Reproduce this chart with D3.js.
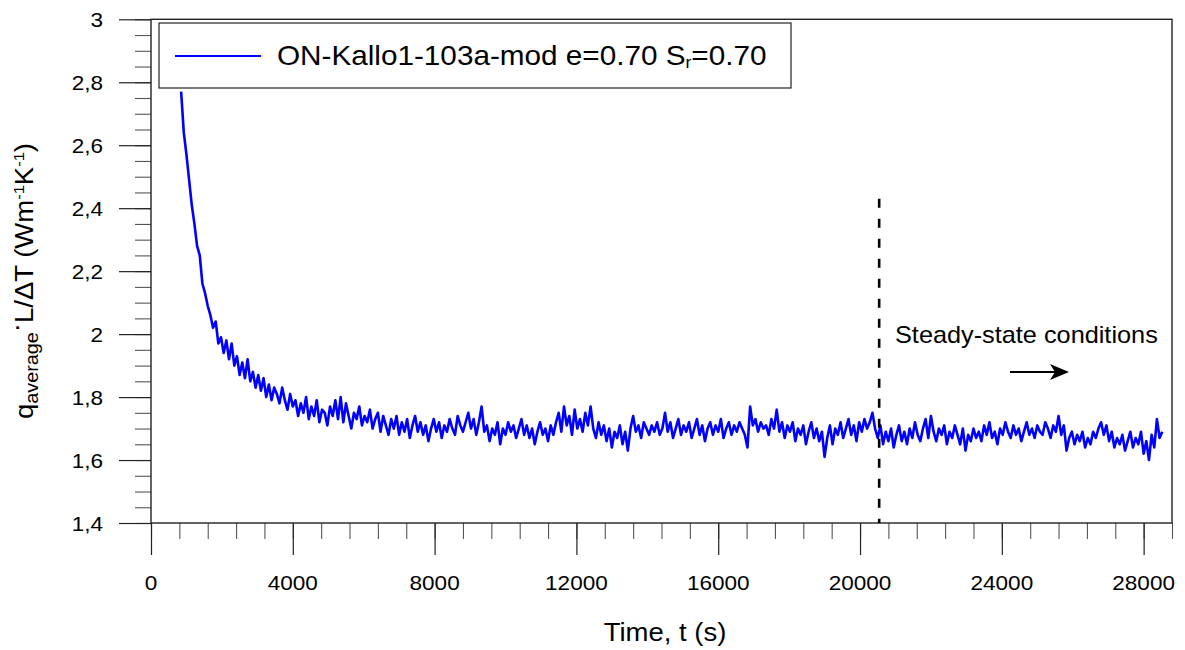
<!DOCTYPE html>
<html>
<head>
<meta charset="utf-8">
<script src="https://cdn.jsdelivr.net/npm/d3@7"></script>
<style>
  html, body { margin: 0; padding: 0; background: #fff; }
  text { font-family: "Liberation Sans", Arial, sans-serif; fill: #000; }
</style>
</head>
<body>
<script>
// ---------------- DATA ----------------
const seriesName = "ON-Kallo1-103a-mod e=0.70 S";
const tStart = 850;      // s, first sample
const tStep = 75;        // s, sampling step
const qValues = [
  2.77, 2.64, 2.57, 2.49, 2.41, 2.35, 2.28, 2.25, 2.16, 2.13,
  2.09, 2.06, 2.02, 2.04, 1.97, 1.99, 1.94, 1.98, 1.92, 1.97,
  1.90, 1.93, 1.87, 1.91, 1.86, 1.92, 1.85, 1.88, 1.83, 1.87,
  1.82, 1.86, 1.80, 1.84, 1.79, 1.83, 1.81, 1.78, 1.83, 1.79,
  1.76, 1.81, 1.77, 1.79, 1.74, 1.78, 1.75, 1.80, 1.73, 1.77,
  1.74, 1.79, 1.72, 1.76, 1.75, 1.71, 1.77, 1.74, 1.79, 1.73,
  1.80, 1.72, 1.78, 1.74, 1.70, 1.75, 1.73, 1.77, 1.71, 1.74,
  1.72, 1.76, 1.70, 1.73, 1.75, 1.69, 1.74, 1.71, 1.68, 1.73,
  1.70, 1.74, 1.68, 1.72, 1.69, 1.73, 1.67, 1.71, 1.74, 1.69,
  1.72, 1.68, 1.71, 1.66, 1.70, 1.73, 1.69, 1.72, 1.67, 1.71,
  1.69, 1.73, 1.70, 1.68, 1.74, 1.71, 1.69, 1.72, 1.75, 1.70,
  1.73, 1.68, 1.72, 1.77, 1.69, 1.71, 1.66, 1.70, 1.68, 1.72,
  1.65, 1.70, 1.68, 1.72, 1.69, 1.71, 1.67, 1.70, 1.73, 1.68,
  1.71, 1.67, 1.70, 1.65, 1.69, 1.72, 1.68, 1.70, 1.66, 1.71,
  1.68, 1.72, 1.75, 1.69, 1.77, 1.71, 1.74, 1.68, 1.76, 1.70,
  1.73, 1.69, 1.75, 1.71, 1.77, 1.70, 1.67, 1.72, 1.68, 1.71,
  1.66, 1.70, 1.64, 1.69, 1.67, 1.71, 1.65, 1.69, 1.63, 1.70,
  1.74, 1.69, 1.71, 1.67, 1.72, 1.70, 1.68, 1.71, 1.69, 1.72,
  1.68, 1.70, 1.75, 1.69, 1.72, 1.67, 1.70, 1.73, 1.68, 1.71,
  1.69, 1.72, 1.67, 1.70, 1.73, 1.68, 1.71, 1.66, 1.70, 1.72,
  1.68, 1.71, 1.69, 1.73, 1.67, 1.70, 1.72, 1.68, 1.71, 1.69,
  1.72, 1.70, 1.68, 1.64, 1.77, 1.71, 1.73, 1.69, 1.72, 1.70,
  1.71, 1.68, 1.73, 1.70, 1.76, 1.69, 1.72, 1.67, 1.71, 1.69,
  1.72, 1.66, 1.70, 1.68, 1.71, 1.65, 1.69, 1.72, 1.67, 1.70,
  1.66, 1.69, 1.61, 1.67, 1.71, 1.65, 1.70, 1.68, 1.72, 1.67,
  1.70, 1.73, 1.68, 1.71, 1.66, 1.72, 1.69, 1.73, 1.70, 1.72,
  1.75, 1.70, 1.67, 1.71, 1.65, 1.69, 1.66, 1.70, 1.64, 1.68,
  1.71, 1.66, 1.69, 1.65, 1.70, 1.67, 1.72, 1.68, 1.66, 1.70,
  1.73, 1.67, 1.74, 1.69, 1.66, 1.70, 1.68, 1.71, 1.65, 1.69,
  1.67, 1.71, 1.68, 1.65, 1.70, 1.63, 1.68, 1.66, 1.70, 1.67,
  1.69, 1.66, 1.71, 1.68, 1.72, 1.67, 1.69, 1.65, 1.70, 1.68,
  1.72, 1.69, 1.67, 1.71, 1.68, 1.70, 1.66, 1.69, 1.72, 1.68,
  1.70, 1.67, 1.71, 1.69, 1.68, 1.72, 1.70, 1.67, 1.71, 1.69,
  1.74, 1.68, 1.71, 1.63, 1.67, 1.69, 1.65, 1.68, 1.66, 1.69,
  1.64, 1.67, 1.65, 1.69, 1.67, 1.70, 1.72, 1.68, 1.71, 1.66,
  1.69, 1.64, 1.67, 1.65, 1.68, 1.63, 1.66, 1.69, 1.64, 1.67,
  1.65, 1.69, 1.62, 1.66, 1.60, 1.68, 1.64, 1.73, 1.67, 1.69
];
const xMajorTicks = [0, 4000, 8000, 12000, 16000, 20000, 24000, 28000];
const xMinorStep = 800;
const yMajorTicks = [1.4, 1.6, 1.8, 2.0, 2.2, 2.4, 2.6, 2.8, 3.0];
const yMinorStep = 0.05;
const steadyStart = 20540;     // s, dashed marker
const steadyTop = 2.43;        // top of dashed marker

// ---------------- LAYOUT ----------------
const W = 1185, H = 650;
const L = 151, R = 1172, T = 19.3, B = 523;
const SX = 1.1; // horizontal stretch of the original glyphs

const svg = d3.select("body").append("svg").attr("width", W).attr("height", H);

const x = d3.scaleLinear().domain([0, 28800]).range([L, R]);
const y = d3.scaleLinear().domain([1.4, 3.0]).range([B, T]);

const xMinor = d3.range(0, 28800 + 1, xMinorStep);
const yMinor = d3.range(0, 33).map(i => 1.4 + i * yMinorStep);

// minor ticks
const gxm = svg.append("g").attr("transform", `translate(0,${B})`)
  .call(d3.axisBottom(x).tickValues(xMinor).tickSize(16).tickFormat(""));
const gym = svg.append("g").attr("transform", `translate(${L},0)`)
  .call(d3.axisLeft(y).tickValues(yMinor).tickSize(16).tickFormat(""));
// major ticks
const gxM = svg.append("g").attr("transform", `translate(0,${B})`)
  .call(d3.axisBottom(x).tickValues(xMajorTicks).tickSize(32).tickFormat(""));
const gyM = svg.append("g").attr("transform", `translate(${L},0)`)
  .call(d3.axisLeft(y).tickValues(yMajorTicks).tickSize(32).tickFormat(""));
[gxm, gym].forEach(g => {
  g.select(".domain").remove();
  g.selectAll(".tick line").attr("stroke", "#555").attr("stroke-width", 1.1);
});
[gxM, gyM].forEach(g => {
  g.select(".domain").remove();
  g.selectAll(".tick line").attr("stroke", "#222").attr("stroke-width", 1.2);
});

// frame
svg.append("rect").attr("x", L).attr("y", T).attr("width", R - L).attr("height", B - T)
  .attr("fill", "none").attr("stroke", "#222").attr("stroke-width", 1.4);

// tick labels
svg.append("g").selectAll("text").data(xMajorTicks).join("text")
  .attr("transform", d => `translate(${x(d)},590) scale(${SX},1)`)
  .attr("text-anchor", "middle").attr("font-size", 20.5)
  .text(d => String(d));
svg.append("g").selectAll("text").data(yMajorTicks).join("text")
  .attr("transform", d => `translate(103,${y(d) + 7.5}) scale(${SX},1)`)
  .attr("text-anchor", "end").attr("font-size", 20.5)
  .text(d => d3.format(".1~f")(d).replace(".", ","));

// axis titles
svg.append("text").attr("transform", `translate(665,641) scale(${SX},1)`)
  .attr("text-anchor", "middle").attr("font-size", 25)
  .text("Time, t (s)");

const yl = svg.append("text")
  .attr("transform", `translate(33,281) rotate(-90) scale(${SX},1)`)
  .attr("text-anchor", "middle").attr("font-size", 25);
yl.append("tspan").text("q");
yl.append("tspan").attr("font-size", 18).attr("dy", 5).text("average");
yl.append("tspan").attr("dy", -13).text("·");
yl.append("tspan").attr("dy", 8).text("L/ΔT (Wm");
yl.append("tspan").attr("font-size", 15).attr("dy", -9).text("-1");
yl.append("tspan").attr("dy", 9).text("K");
yl.append("tspan").attr("font-size", 15).attr("dy", -9).text("-1");
yl.append("tspan").attr("dy", 9).text(")");

// data line
const line = d3.line()
  .x((d, i) => x(tStart + i * tStep))
  .y(d => y(d));
svg.append("path").datum(qValues)
  .attr("d", line).attr("fill", "none")
  .attr("stroke", "#0000ff").attr("stroke-width", 2.6)
  .attr("stroke-linejoin", "round");

// steady-state marker
svg.append("line")
  .attr("x1", x(steadyStart)).attr("x2", x(steadyStart))
  .attr("y1", y(steadyTop)).attr("y2", B)
  .attr("stroke", "#000").attr("stroke-width", 2.6)
  .attr("stroke-dasharray", "9,11");

svg.append("text").attr("transform", `translate(895,343) scale(${SX},1)`)
  .attr("font-size", 23).text("Steady-state conditions");
svg.append("line").attr("x1", 1010).attr("x2", 1060).attr("y1", 372).attr("y2", 372)
  .attr("stroke", "#000").attr("stroke-width", 2);
svg.append("path").attr("d", "M1069,372 L1050,364 L1055,372 L1050,380 Z").attr("fill", "#000");

// legend
const lg = svg.append("g");
lg.append("rect").attr("x", 159).attr("y", 23).attr("width", 632).attr("height", 65)
  .attr("fill", "#fff").attr("stroke", "#222").attr("stroke-width", 1.2);
lg.append("line").attr("x1", 175).attr("x2", 261).attr("y1", 56).attr("y2", 56)
  .attr("stroke", "#0000ff").attr("stroke-width", 2);
const lt = lg.append("text").attr("transform", `translate(277,65) scale(${SX},1)`)
  .attr("font-size", 27);
lt.append("tspan").text(seriesName);
lt.append("tspan").attr("font-size", 16).attr("dy", 3).text("r");
lt.append("tspan").attr("dy", -3).text("=0.70");
</script>
</body>
</html>
